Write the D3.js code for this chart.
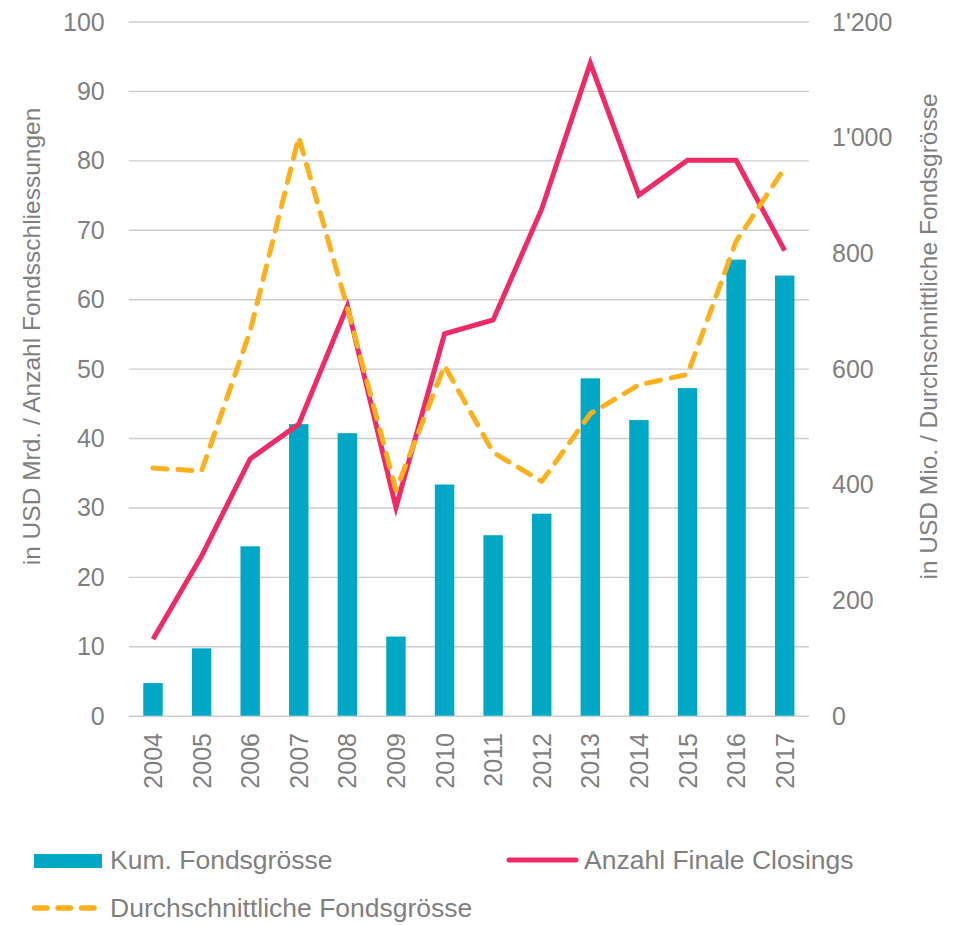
<!DOCTYPE html>
<html>
<head>
<meta charset="utf-8">
<script src="https://cdn.jsdelivr.net/npm/d3@7"></script>
<style>
  html, body { margin: 0; padding: 0; background: #ffffff; }
  svg { display: block; }
  text { font-family: "Liberation Sans", Arial, sans-serif; fill: #7f7f7f; }
</style>
</head>
<body>
<svg id="chart" width="966" height="925"></svg>
<script>
// ---- data ----
const years = ["2004","2005","2006","2007","2008","2009","2010","2011","2012","2013","2014","2015","2016","2017"];
const kumFondsgroesse = [4.7, 9.7, 24.4, 42.0, 40.7, 11.4, 33.3, 26.0, 29.1, 48.6, 42.6, 47.2, 65.7, 63.4];
const anzahlClosings = [11, 23, 37, 42, 59, 30, 55, 57, 73, 94, 75, 80, 80, 67];
const avgFondsgroesse = [428, 423, 665, 1000, 705, 390, 605, 455, 405, 522, 572, 590, 820, 947];
const leftTicks = [0, 10, 20, 30, 40, 50, 60, 70, 80, 90, 100];
const rightTicks = [0, 200, 400, 600, 800, 1000, 1200];
const rightTickLabels = ["0", "200", "400", "600", "800", "1'000", "1'200"];
const seriesNames = ["Kum. Fondsgrösse", "Anzahl Finale Closings", "Durchschnittliche Fondsgrösse"];
const leftTitle = "in USD Mrd. / Anzahl Fondsschliessungen";
const rightTitle = "in USD Mio. / Durchschnittliche Fondsgrösse";

// ---- layout ----
const colBar = "#00a8c6", colPink = "#ee2b67", colOrange = "#fcb01c", colGrid = "#cccccc";
const plot = { left: 128.7, right: 809, top: 21.5, bottom: 715.7 };
const svg = d3.select("#chart");

const x = d3.scaleBand().domain(years).range([plot.left, plot.right]).paddingInner(0.6).paddingOuter(0.3);
const yL = d3.scaleLinear().domain([0, 100]).range([plot.bottom, plot.top]);
const yR = d3.scaleLinear().domain([0, 1200]).range([plot.bottom, plot.top]);
const cx = d => x(d) + x.bandwidth() / 2;

// gridlines + left axis labels
const gL = svg.append("g").attr("transform", `translate(${plot.left},0)`)
  .call(d3.axisLeft(yL).tickValues(leftTicks).tickSizeInner(-(plot.right - plot.left)).tickSizeOuter(0).tickPadding(24));
gL.select(".domain").remove();
gL.selectAll(".tick line").attr("stroke", colGrid).attr("stroke-width", 1.4);
gL.selectAll(".tick text").style("font-size", "25px").attr("fill", "#7f7f7f").attr("dy", "0.34em");

// right axis labels
const gR = svg.append("g").attr("transform", `translate(${plot.right},0)`)
  .call(d3.axisRight(yR).tickValues(rightTicks).tickFormat((d, i) => rightTickLabels[i]).tickSize(0).tickPadding(23));
gR.select(".domain").remove();
gR.selectAll(".tick text").style("font-size", "25px").attr("fill", "#7f7f7f").attr("dy", "0.34em");

// bars
svg.append("g").selectAll("rect").data(years).join("rect")
  .attr("x", d => x(d))
  .attr("width", x.bandwidth())
  .attr("y", (d, i) => yL(kumFondsgroesse[i]))
  .attr("height", (d, i) => yL(0) - yL(kumFondsgroesse[i]))
  .attr("fill", colBar);

// pink line
const linePink = d3.line().x((d, i) => cx(years[i])).y(d => yL(d));
svg.append("path").datum(anzahlClosings)
  .attr("d", linePink).attr("fill", "none")
  .attr("stroke", colPink).attr("stroke-width", 5).attr("stroke-linejoin", "miter");

// orange dashed line
const lineOrange = d3.line().x((d, i) => cx(years[i])).y(d => yR(d));
svg.append("path").datum(avgFondsgroesse)
  .attr("d", lineOrange).attr("fill", "none")
  .attr("stroke", colOrange).attr("stroke-width", 5)
  .attr("stroke-dasharray", "14,11").attr("stroke-linecap", "round").attr("stroke-linejoin", "round");

// x labels (rotated)
svg.append("g").selectAll("text").data(years).join("text")
  .attr("transform", d => `translate(${cx(d) + 9},733) rotate(-90)`)
  .attr("text-anchor", "end")
  .style("font-size", "25px")
  .text(d => d);

// axis titles
svg.append("text")
  .attr("transform", "translate(40,336.5) rotate(-90)")
  .attr("text-anchor", "middle").style("font-size", "24.5px")
  .text(leftTitle);
svg.append("text")
  .attr("transform", "translate(937,336.5) rotate(-90)")
  .attr("text-anchor", "middle").style("font-size", "24.5px")
  .text(rightTitle);

// legend
const lg = svg.append("g");
lg.append("rect").attr("x", 34).attr("y", 854).attr("width", 68).attr("height", 14).attr("fill", colBar);
lg.append("text").attr("x", 110).attr("y", 868.5).style("font-size", "26.5px").text(seriesNames[0]);

lg.append("line").attr("x1", 509).attr("x2", 576).attr("y1", 860).attr("y2", 860)
  .attr("stroke", colPink).attr("stroke-width", 5).attr("stroke-linecap", "round");
lg.append("text").attr("x", 584).attr("y", 868.5).style("font-size", "26.5px").text(seriesNames[1]);

lg.append("line").attr("x1", 34.5).attr("x2", 96).attr("y1", 908).attr("y2", 908)
  .attr("stroke", colOrange).attr("stroke-width", 5.5).attr("stroke-linecap", "round")
  .attr("stroke-dasharray", "12.5,11");
lg.append("text").attr("x", 110).attr("y", 917).style("font-size", "26.5px").text(seriesNames[2]);
</script>
</body>
</html>
